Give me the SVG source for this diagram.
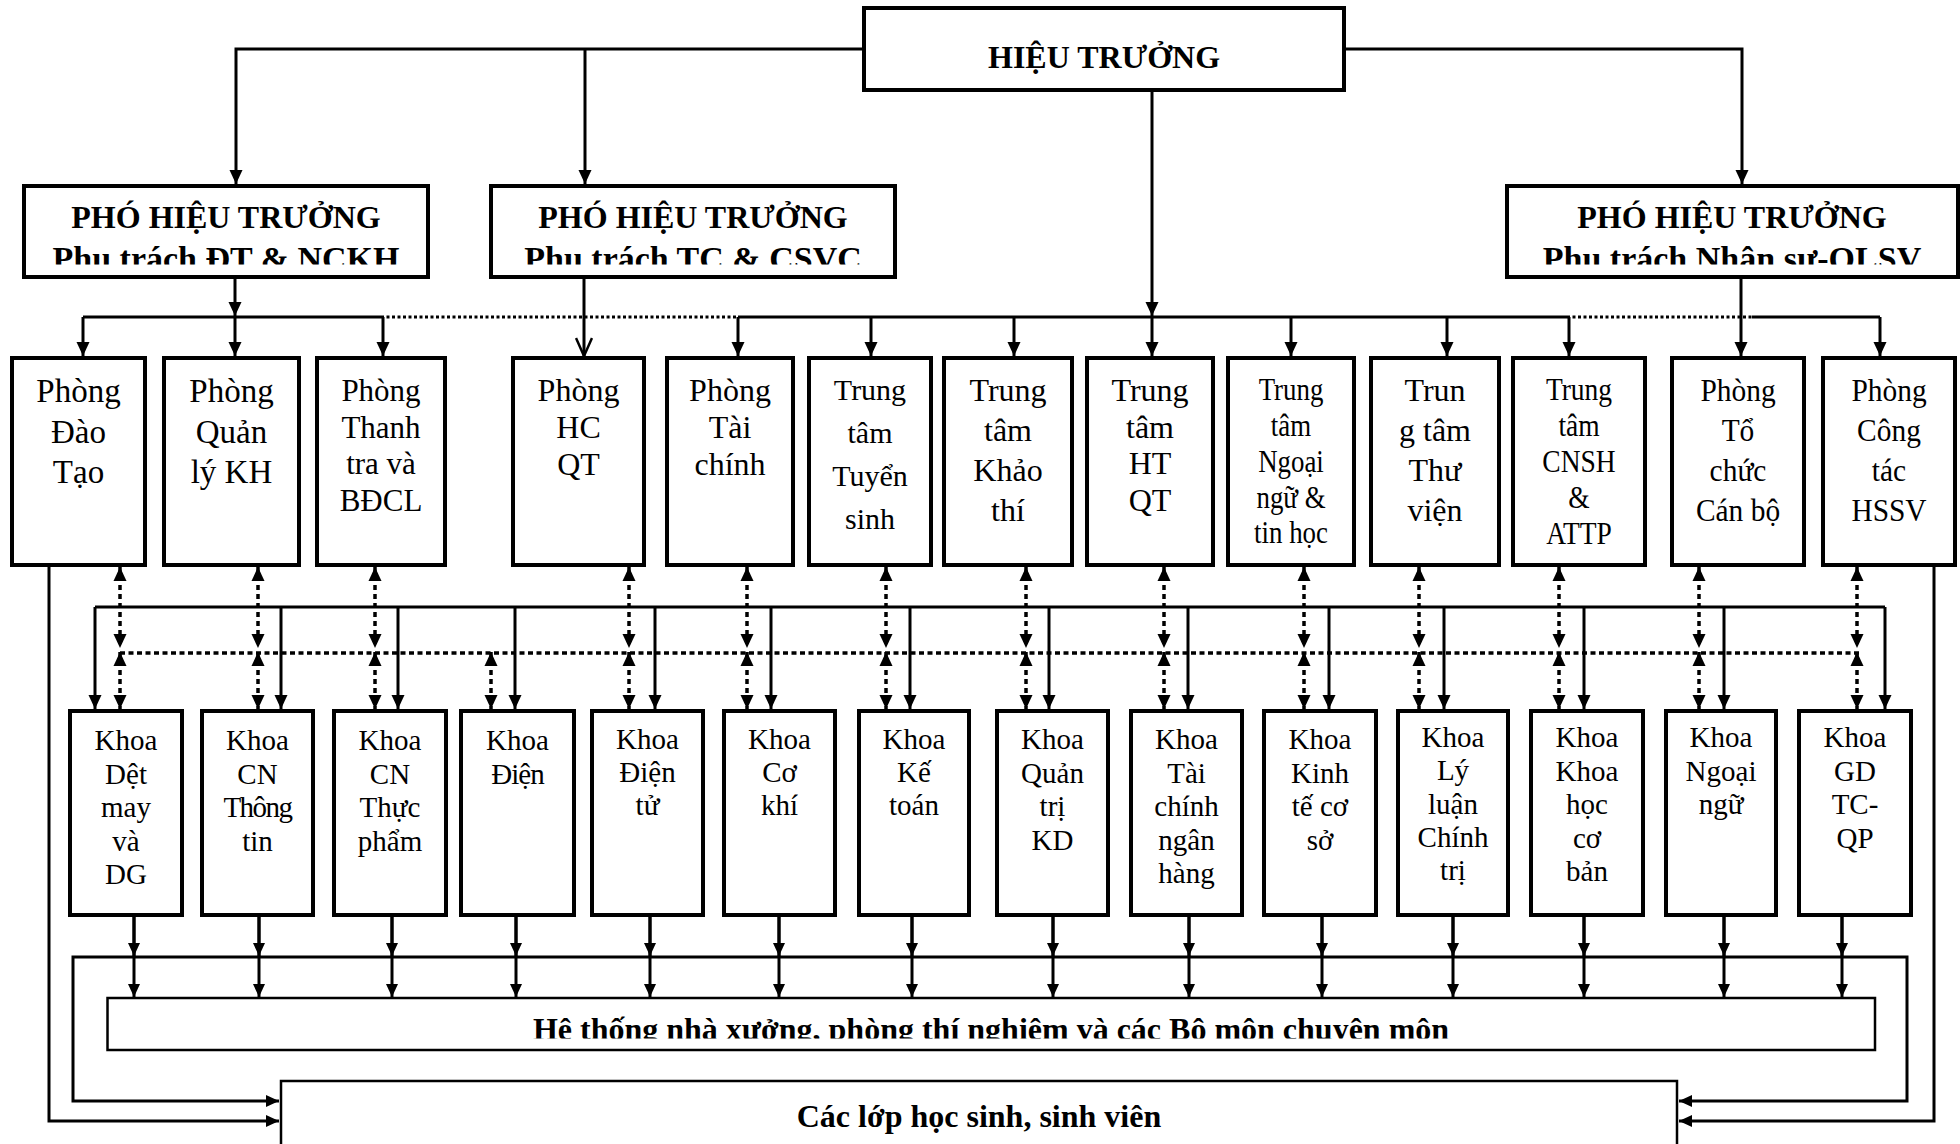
<svg xmlns="http://www.w3.org/2000/svg" width="1960" height="1144" viewBox="0 0 1960 1144">
<style>
.box{fill:#fff;stroke:#000;stroke-width:4}
.thin{fill:#fff;stroke:#000;stroke-width:2.5}
.t{font-family:"Liberation Serif","Times New Roman",serif;font-size:32px;text-anchor:middle;fill:#000}
.b{font-weight:bold}
.k{font-size:29px}
.c{fill:none;stroke:#000;stroke-width:3}
.d1{stroke-dasharray:3 2.5}
.d2{stroke-dasharray:5 3.5;stroke-width:3.5}
.d3{stroke-dasharray:5 4;stroke-width:3.5}
</style>
<defs>
<marker id="a" markerUnits="userSpaceOnUse" markerWidth="14" markerHeight="14" refX="14" refY="7" orient="auto-start-reverse" viewBox="0 0 14 14"><path d="M0,0.5 L14,7 L0,13.5 z" fill="#000"/></marker>
<marker id="s" markerUnits="userSpaceOnUse" markerWidth="13" markerHeight="13" refX="13" refY="6.5" orient="auto-start-reverse" viewBox="0 0 13 13"><path d="M0,0.5 L13,6.5 L0,12.5 z" fill="#000"/></marker>
<marker id="o" markerUnits="userSpaceOnUse" markerWidth="20" markerHeight="18" refX="19" refY="9" orient="auto" viewBox="0 0 20 18"><path d="M1,1 L19,9 L1,17" fill="none" stroke="#000" stroke-width="2.5"/></marker>
<clipPath id="cp1"><rect x="0" y="180" width="1960" height="84.5"/></clipPath>
<clipPath id="cp2"><rect x="0" y="995" width="1960" height="43.5"/></clipPath>
</defs>

<g id="connectors">
<path class="c" d="M864,49 H236 V184" marker-end="url(#a)"/>
<path class="c" d="M585,49 V184" marker-end="url(#a)"/>
<path class="c" d="M1344,49 H1742 V184" marker-end="url(#a)"/>
<path class="c" d="M1152,90 V316" marker-end="url(#a)"/>
<path class="c" d="M235,277 V316" marker-end="url(#a)"/>
<path class="c" d="M584,277 V356" marker-end="url(#o)"/>
<path class="c" d="M1741,277 V356" marker-end="url(#a)"/>
<path class="c" d="M83,317 H381 M738,317 H1567 M1752,317 H1880"/>
<path class="c d1" d="M381,317 H738 M1567,317 H1752"/>
<path class="c" d="M83,317 V356" marker-end="url(#a)"/>
<path class="c" d="M235,317 V356" marker-end="url(#a)"/>
<path class="c" d="M383,317 V356" marker-end="url(#a)"/>
<path class="c" d="M738,317 V356" marker-end="url(#a)"/>
<path class="c" d="M871,317 V356" marker-end="url(#a)"/>
<path class="c" d="M1014,317 V356" marker-end="url(#a)"/>
<path class="c" d="M1152,317 V356" marker-end="url(#a)"/>
<path class="c" d="M1291,317 V356" marker-end="url(#a)"/>
<path class="c" d="M1447,317 V356" marker-end="url(#a)"/>
<path class="c" d="M1569,317 V356" marker-end="url(#a)"/>
<path class="c" d="M1880,317 V356" marker-end="url(#a)"/>

<path class="c" d="M95,607 H1885"/>
<path class="c" d="M95,607 V709" marker-end="url(#a)"/>
<path class="c" d="M281,607 V709" marker-end="url(#a)"/>
<path class="c" d="M398,607 V709" marker-end="url(#a)"/>
<path class="c" d="M515,607 V709" marker-end="url(#a)"/>
<path class="c" d="M655,607 V709" marker-end="url(#a)"/>
<path class="c" d="M771,607 V709" marker-end="url(#a)"/>
<path class="c" d="M910,607 V709" marker-end="url(#a)"/>
<path class="c" d="M1049,607 V709" marker-end="url(#a)"/>
<path class="c" d="M1188,607 V709" marker-end="url(#a)"/>
<path class="c" d="M1329,607 V709" marker-end="url(#a)"/>
<path class="c" d="M1444,607 V709" marker-end="url(#a)"/>
<path class="c" d="M1584,607 V709" marker-end="url(#a)"/>
<path class="c" d="M1724,607 V709" marker-end="url(#a)"/>
<path class="c" d="M1885,607 V709" marker-end="url(#a)"/>

<path class="c d2" d="M120,653 H1862"/>
<g class="c d3">
<path d="M120,567 V648" marker-start="url(#a)" marker-end="url(#a)"/>
<path d="M258,567 V648" marker-start="url(#a)" marker-end="url(#a)"/>
<path d="M375,567 V648" marker-start="url(#a)" marker-end="url(#a)"/>
<path d="M629,567 V648" marker-start="url(#a)" marker-end="url(#a)"/>
<path d="M747,567 V648" marker-start="url(#a)" marker-end="url(#a)"/>
<path d="M886,567 V648" marker-start="url(#a)" marker-end="url(#a)"/>
<path d="M1026,567 V648" marker-start="url(#a)" marker-end="url(#a)"/>
<path d="M1164,567 V648" marker-start="url(#a)" marker-end="url(#a)"/>
<path d="M1304,567 V648" marker-start="url(#a)" marker-end="url(#a)"/>
<path d="M1419,567 V648" marker-start="url(#a)" marker-end="url(#a)"/>
<path d="M1559,567 V648" marker-start="url(#a)" marker-end="url(#a)"/>
<path d="M1699,567 V648" marker-start="url(#a)" marker-end="url(#a)"/>
<path d="M1857,567 V648" marker-start="url(#a)" marker-end="url(#a)"/>
<path d="M120,652 V709" marker-start="url(#a)" marker-end="url(#a)"/>
<path d="M258,652 V709" marker-start="url(#a)" marker-end="url(#a)"/>
<path d="M375,652 V709" marker-start="url(#a)" marker-end="url(#a)"/>
<path d="M491,652 V709" marker-start="url(#a)" marker-end="url(#a)"/>
<path d="M629,652 V709" marker-start="url(#a)" marker-end="url(#a)"/>
<path d="M747,652 V709" marker-start="url(#a)" marker-end="url(#a)"/>
<path d="M886,652 V709" marker-start="url(#a)" marker-end="url(#a)"/>
<path d="M1026,652 V709" marker-start="url(#a)" marker-end="url(#a)"/>
<path d="M1164,652 V709" marker-start="url(#a)" marker-end="url(#a)"/>
<path d="M1304,652 V709" marker-start="url(#a)" marker-end="url(#a)"/>
<path d="M1419,652 V709" marker-start="url(#a)" marker-end="url(#a)"/>
<path d="M1559,652 V709" marker-start="url(#a)" marker-end="url(#a)"/>
<path d="M1699,652 V709" marker-start="url(#a)" marker-end="url(#a)"/>
<path d="M1857,652 V709" marker-start="url(#a)" marker-end="url(#a)"/>
</g>

<g class="c">
<path d="M134,917 V956 M259,917 V956 M392,917 V956 M516,917 V956 M650,917 V956 M779,917 V956 M912,917 V956 M1053,917 V956 M1189,917 V956 M1322,917 V956 M1453,917 V956 M1584,917 V956 M1724,917 V956 M1842,917 V956"/>
</g>
<g class="c" marker-end="url(#s)">
<path d="M134,917 V956"/><path d="M259,917 V956"/><path d="M392,917 V956"/><path d="M516,917 V956"/><path d="M650,917 V956"/><path d="M779,917 V956"/><path d="M912,917 V956"/><path d="M1053,917 V956"/><path d="M1189,917 V956"/><path d="M1322,917 V956"/><path d="M1453,917 V956"/><path d="M1584,917 V956"/><path d="M1724,917 V956"/><path d="M1842,917 V956"/>
<path d="M134,957 V997"/><path d="M259,957 V997"/><path d="M392,957 V997"/><path d="M516,957 V997"/><path d="M650,957 V997"/><path d="M779,957 V997"/><path d="M912,957 V997"/><path d="M1053,957 V997"/><path d="M1189,957 V997"/><path d="M1322,957 V997"/><path d="M1453,957 V997"/><path d="M1584,957 V997"/><path d="M1724,957 V997"/><path d="M1842,957 V997"/>
</g>
<path class="c" d="M279,1101 H73 V957 H1907 V1101 H1679" marker-start="url(#s)" marker-end="url(#s)"/>
<path class="c" d="M49,565 V1121 H279" marker-end="url(#s)"/>
<path class="c" d="M1934,565 V1121 H1679" marker-end="url(#s)"/>
</g>

<g id="hieu-truong"><rect class="box" x="864" y="8" width="480" height="82"/><text class="t b" x="1104" y="68">HIỆU TRƯỞNG</text></g>

<g id="pht1"><rect class="box" x="24" y="186" width="404" height="91"/><text class="t b" x="226" y="228">PHÓ HIỆU TRƯỞNG</text><text class="t b" x="226" y="270" clip-path="url(#cp1)" style="font-size:34px">Phụ trách ĐT &amp; NCKH</text></g>
<g id="pht2"><rect class="box" x="491" y="186" width="404" height="91"/><text class="t b" x="693" y="228">PHÓ HIỆU TRƯỞNG</text><text class="t b" x="693" y="270" clip-path="url(#cp1)" style="font-size:34px">Phụ trách TC &amp; CSVC</text></g>
<g id="pht3"><rect class="box" x="1507" y="186" width="451" height="91"/><text class="t b" x="1732" y="228">PHÓ HIỆU TRƯỞNG</text><text class="t b" x="1732" y="270" clip-path="url(#cp1)" style="font-size:34px">Phụ trách Nhân sự-QLSV</text></g>

<g id="p-daotao"><rect class="box" x="12" y="358" width="133" height="207"/><text class="t" style="font-size:33px"><tspan x="78.5" y="402">Phòng</tspan><tspan x="78.5" dy="40.5">Đào</tspan><tspan x="78.5" dy="40.5">Tạo</tspan></text></g>
<g id="p-qlkh"><rect class="box" x="164" y="358" width="135" height="207"/><text class="t" style="font-size:33px"><tspan x="231.5" y="402">Phòng</tspan><tspan x="231.5" dy="40.5">Quản</tspan><tspan x="231.5" dy="40.5">lý KH</tspan></text></g>
<g id="p-thanhtra"><rect class="box" x="317" y="358" width="128" height="207"/><text class="t" style="font-size:31px"><tspan x="381" y="401">Phòng</tspan><tspan x="381" dy="36.5">Thanh</tspan><tspan x="381" dy="36.5">tra và</tspan><tspan x="381" dy="36.5">BĐCL</tspan></text></g>
<g id="p-hcqt"><rect class="box" x="513" y="358" width="131" height="207"/><text class="t"><tspan x="578.5" y="401">Phòng</tspan><tspan x="578.5" dy="37">HC</tspan><tspan x="578.5" dy="37">QT</tspan></text></g>
<g id="p-taichinh"><rect class="box" x="667" y="358" width="126" height="207"/><text class="t"><tspan x="730" y="401">Phòng</tspan><tspan x="730" dy="37">Tài</tspan><tspan x="730" dy="37">chính</tspan></text></g>
<g id="tt-tuyensinh"><rect class="box" x="809" y="358" width="122" height="207"/><text class="t" style="font-size:30px"><tspan x="870" y="400">Trung</tspan><tspan x="870" dy="43">tâm</tspan><tspan x="870" dy="43">Tuyển</tspan><tspan x="870" dy="43">sinh</tspan></text></g>
<g id="tt-khaothi"><rect class="box" x="944" y="358" width="128" height="207"/><text class="t"><tspan x="1008" y="401">Trung</tspan><tspan x="1008" dy="40">tâm</tspan><tspan x="1008" dy="40">Khảo</tspan><tspan x="1008" dy="40">thí</tspan></text></g>
<g id="tt-htqt"><rect class="box" x="1087" y="358" width="126" height="207"/><text class="t"><tspan x="1150" y="401">Trung</tspan><tspan x="1150" dy="36.5">tâm</tspan><tspan x="1150" dy="36.5">HT</tspan><tspan x="1150" dy="36.5">QT</tspan></text></g>
<g id="tt-ngoaingu"><rect class="box" x="1228" y="358" width="126" height="207"/><g transform="translate(1291,0) scale(0.84,1)"><text class="t"><tspan x="0" y="400">Trung</tspan><tspan x="0" dy="36">tâm</tspan><tspan x="0" dy="36">Ngoại</tspan><tspan x="0" dy="36">ngữ &amp;</tspan><tspan x="0" dy="35">tin học</tspan></text></g></g>
<g id="tt-thuvien"><rect class="box" x="1371" y="358" width="128" height="207"/><text class="t"><tspan x="1435" y="401">Trun</tspan><tspan x="1435" dy="40">g tâm</tspan><tspan x="1435" dy="40">Thư</tspan><tspan x="1435" dy="40">viện</tspan></text></g>
<g id="tt-cnsh"><rect class="box" x="1513" y="358" width="132" height="207"/><g transform="translate(1579,0) scale(0.86,1)"><text class="t"><tspan x="0" y="400">Trung</tspan><tspan x="0" dy="36">tâm</tspan><tspan x="0" dy="36">CNSH</tspan><tspan x="0" dy="36">&amp;</tspan><tspan x="0" dy="36">ATTP</tspan></text></g></g>
<g id="p-tochuc"><rect class="box" x="1672" y="358" width="132" height="207"/><g transform="translate(1738,0) scale(0.92,1)"><text class="t"><tspan x="0" y="401">Phòng</tspan><tspan x="0" dy="40">Tổ</tspan><tspan x="0" dy="40">chức</tspan><tspan x="0" dy="40">Cán bộ</tspan></text></g></g>
<g id="p-hssv"><rect class="box" x="1823" y="358" width="132" height="207"/><g transform="translate(1889,0) scale(0.92,1)"><text class="t"><tspan x="0" y="401">Phòng</tspan><tspan x="0" dy="40">Công</tspan><tspan x="0" dy="40">tác</tspan><tspan x="0" dy="40">HSSV</tspan></text></g></g>

<g id="k-det"><rect class="box" x="70" y="711" width="112" height="204"/><text class="t k"><tspan x="126" y="750">Khoa</tspan><tspan x="126" dy="33.5">Dệt</tspan><tspan x="126" dy="33.5">may</tspan><tspan x="126" dy="33.5">và</tspan><tspan x="126" dy="33.5">DG</tspan></text></g>
<g id="k-cntt"><rect class="box" x="202" y="711" width="111" height="204"/><text class="t k"><tspan x="257.5" y="750">Khoa</tspan><tspan x="257.5" dy="33.5">CN</tspan><tspan x="257.5" dy="33.5" letter-spacing="-1.5">Thông</tspan><tspan x="257.5" dy="33.5">tin</tspan></text></g>
<g id="k-cntp"><rect class="box" x="334" y="711" width="112" height="204"/><text class="t k"><tspan x="390" y="750">Khoa</tspan><tspan x="390" dy="33.5">CN</tspan><tspan x="390" dy="33.5">Thực</tspan><tspan x="390" dy="33.5">phẩm</tspan></text></g>
<g id="k-dien"><rect class="box" x="461" y="711" width="113" height="204"/><text class="t k"><tspan x="517.5" y="750">Khoa</tspan><tspan x="517.5" dy="33.5" letter-spacing="-1">Điện</tspan></text></g>
<g id="k-dientu"><rect class="box" x="592" y="711" width="111" height="204"/><text class="t k"><tspan x="647.5" y="749">Khoa</tspan><tspan x="647.5" dy="33">Điện</tspan><tspan x="647.5" dy="33">tử</tspan></text></g>
<g id="k-cokhi"><rect class="box" x="724" y="711" width="111" height="204"/><text class="t k"><tspan x="779.5" y="749">Khoa</tspan><tspan x="779.5" dy="33">Cơ</tspan><tspan x="779.5" dy="33">khí</tspan></text></g>
<g id="k-ketoan"><rect class="box" x="859" y="711" width="110" height="204"/><text class="t k"><tspan x="914" y="749">Khoa</tspan><tspan x="914" dy="33">Kế</tspan><tspan x="914" dy="33">toán</tspan></text></g>
<g id="k-qtkd"><rect class="box" x="997" y="711" width="111" height="204"/><text class="t k"><tspan x="1052.5" y="749">Khoa</tspan><tspan x="1052.5" dy="33.5">Quản</tspan><tspan x="1052.5" dy="33.5">trị</tspan><tspan x="1052.5" dy="33.5">KD</tspan></text></g>
<g id="k-tcnh"><rect class="box" x="1131" y="711" width="111" height="204"/><text class="t k"><tspan x="1186.5" y="749">Khoa</tspan><tspan x="1186.5" dy="33.5">Tài</tspan><tspan x="1186.5" dy="33.5">chính</tspan><tspan x="1186.5" dy="33.5">ngân</tspan><tspan x="1186.5" dy="33.5">hàng</tspan></text></g>
<g id="k-ktcs"><rect class="box" x="1264" y="711" width="112" height="204"/><text class="t k"><tspan x="1320" y="749">Khoa</tspan><tspan x="1320" dy="33.5">Kinh</tspan><tspan x="1320" dy="33.5">tế cơ</tspan><tspan x="1320" dy="33.5">sở</tspan></text></g>
<g id="k-llct"><rect class="box" x="1398" y="711" width="110" height="204"/><text class="t k"><tspan x="1453" y="747">Khoa</tspan><tspan x="1453" dy="33.3">Lý</tspan><tspan x="1453" dy="33.3">luận</tspan><tspan x="1453" dy="33.3">Chính</tspan><tspan x="1453" dy="33.3">trị</tspan></text></g>
<g id="k-khcb"><rect class="box" x="1531" y="711" width="112" height="204"/><text class="t k"><tspan x="1587" y="747">Khoa</tspan><tspan x="1587" dy="33.5">Khoa</tspan><tspan x="1587" dy="33.5">học</tspan><tspan x="1587" dy="33.5">cơ</tspan><tspan x="1587" dy="33.5">bản</tspan></text></g>
<g id="k-nn"><rect class="box" x="1666" y="711" width="110" height="204"/><text class="t k"><tspan x="1721" y="747">Khoa</tspan><tspan x="1721" dy="33.5">Ngoại</tspan><tspan x="1721" dy="33.5">ngữ</tspan></text></g>
<g id="k-gdqp"><rect class="box" x="1799" y="711" width="112" height="204"/><text class="t k"><tspan x="1855" y="747">Khoa</tspan><tspan x="1855" dy="33.5">GD</tspan><tspan x="1855" dy="33.5">TC-</tspan><tspan x="1855" dy="33.5">QP</tspan></text></g>

<g id="he-thong"><rect class="thin" x="107.5" y="998" width="1767.5" height="52"/><text class="t b" x="991" y="1040" clip-path="url(#cp2)">Hệ thống nhà xưởng, phòng thí nghiệm và các Bộ môn chuyên môn</text></g>
<g id="cac-lop"><rect class="thin" x="281" y="1081" width="1396" height="100"/><text class="t b" x="979" y="1127">Các lớp học sinh, sinh viên</text></g>
</svg>
